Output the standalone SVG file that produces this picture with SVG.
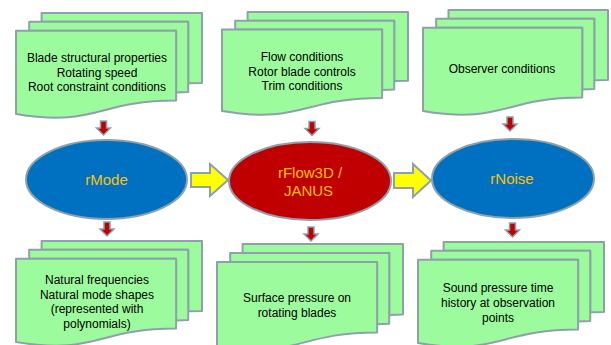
<svg xmlns="http://www.w3.org/2000/svg" width="611" height="345" viewBox="0 0 611 345">
<style>
.pg{fill:#9CFB9C;stroke:#8EA1AB;stroke-width:2;vector-effect:non-scaling-stroke;stroke-linejoin:round}
.dt{font-family:"Liberation Sans",Arial,sans-serif;font-size:12px;fill:#000;text-anchor:middle}
.et{font-family:"Liberation Sans",Arial,sans-serif;font-size:15px;fill:#FFC000;text-anchor:middle}
.el{stroke:#8EA1AB;stroke-width:2}
.dn{fill:#C00000;stroke:#8EA1AB;stroke-width:1.5;stroke-linejoin:miter}
.ya{fill:#FFFF00;stroke:#8EA1AB;stroke-width:2;stroke-linejoin:miter}
</style>
<defs>
<g id="md">
<path class="pg" d="M29.72,18.15 L29.72,0 L216,0 L216,143.92 C208,143.92 200,144.67 200,144.67 L200,18.15 Z"/>
<path class="pg" d="M15.32,36.75 L15.32,18.15 L200,18.15 L200,162.52 C192.98,162.52 185.95,163.52 185.95,163.52 L185.95,36.75 Z"/>
<path class="pg" d="M0,207.82 C92.98,235.42 92.98,180.22 185.95,180.22 L185.95,36.75 L0,36.75 Z"/>
</g>
<path id="down" d="M-3,0 L3,0 L3,7 L7,7 L0,14 L-7,7 L-3,7 Z"/>
</defs>

<g id="doc-blade">
<use href="#md" transform="translate(16,13) scale(0.8611,0.4861)"/>
<text class="dt" x="97" y="62">Blade structural properties</text>
<text class="dt" x="97" y="76.5">Rotating speed</text>
<text class="dt" x="97" y="91">Root constraint conditions</text>
</g>
<g id="doc-flow">
<use href="#md" transform="translate(222,12) scale(0.8611,0.4769)"/>
<text class="dt" x="302" y="61">Flow conditions</text>
<text class="dt" x="302" y="75.5">Rotor blade controls</text>
<text class="dt" x="302" y="90">Trim conditions</text>
</g>
<g id="doc-observer">
<use href="#md" transform="translate(423,10) scale(0.8565,0.4861)"/>
<text class="dt" x="502" y="73">Observer conditions</text>
</g>

<g id="node-rmode">
<ellipse class="el" cx="106.5" cy="179.5" rx="80.5" ry="39.5" fill="#0070C0"/>
<text class="et" x="106.5" y="185">rMode</text>
</g>
<g id="node-rflow">
<ellipse class="el" cx="310" cy="181" rx="81" ry="39" fill="#C00000"/>
<text class="et" x="310" y="178">rFlow3D /</text>
<text class="et" x="308.5" y="196">JANUS</text>
</g>
<g id="node-rnoise">
<ellipse class="el" cx="513" cy="178.5" rx="81" ry="39.5" fill="#0070C0"/>
<text class="et" x="512" y="184">rNoise</text>
</g>

<g id="doc-modes">
<use href="#md" transform="translate(16,241) scale(0.8611,0.4861)"/>
<text class="dt" x="97" y="284">Natural frequencies</text>
<text class="dt" x="97" y="298.5">Natural mode shapes</text>
<text class="dt" x="97" y="313">(represented with</text>
<text class="dt" x="97" y="327.5">polynomials)</text>
</g>
<g id="doc-pressure">
<use href="#md" transform="translate(217,244) scale(0.8611,0.4907)"/>
<text class="dt" x="297" y="302">Surface pressure on</text>
<text class="dt" x="297" y="317">rotating blades</text>
</g>
<g id="doc-sound">
<use href="#md" transform="translate(418,242) scale(0.8611,0.4861)"/>
<text class="dt" x="498" y="292">Sound pressure time</text>
<text class="dt" x="498" y="307">history at observation</text>
<text class="dt" x="498" y="322">points</text>
</g>

<g id="connectors">
<use href="#down" class="dn" transform="translate(103.5,121)"/>
<use href="#down" class="dn" transform="translate(312,121.5)"/>
<use href="#down" class="dn" transform="translate(510,117)"/>
<use href="#down" class="dn" transform="translate(107,222)"/>
<use href="#down" class="dn" transform="translate(311,227)"/>
<use href="#down" class="dn" transform="translate(512.5,223)"/>
<path class="ya" d="M191,173 L210,173 L210,164 L228,180 L210,196 L210,187 L191,187 Z"/>
<path class="ya" d="M394,173 L413,173 L413,164 L431,180.5 L413,197 L413,188 L394,188 Z"/>
</g>
</svg>
